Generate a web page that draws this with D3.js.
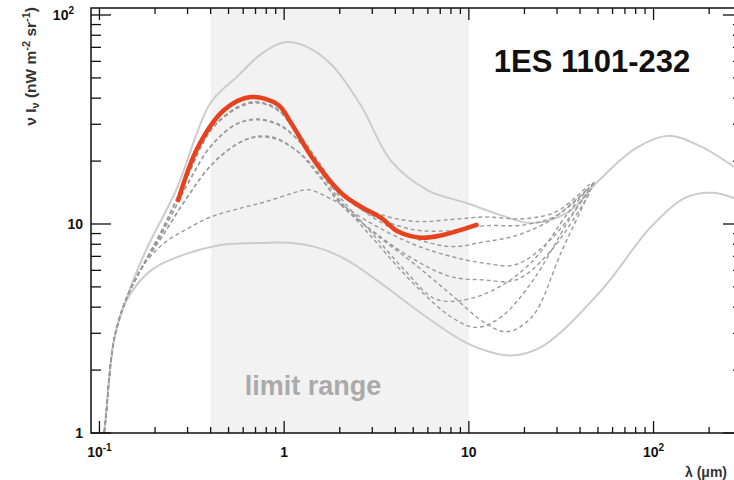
<!DOCTYPE html>
<html>
<head>
<meta charset="utf-8">
<script src="https://cdn.jsdelivr.net/npm/d3@7"></script>
<style>
  body { margin: 0; background: #fff; }
  svg { display: block; font-family: "Liberation Sans", Arial, sans-serif; }
</style>
</head>
<body>
<svg class="chart" width="734" height="480"></svg>
<script>
// wavelength (um) / intensity (nW m^-2 sr^-1) pairs
const limitRange = [0.4, 10]

const upperEnvelope = [
  [0.1, 0.75], [0.106, 1.0], [0.12, 2.8], [0.14, 4.4], [0.18, 7.6], [0.26, 14.5],
  [0.4, 38], [0.56, 51], [0.75, 65], [1, 74], [1.3, 71], [1.8, 58], [2.6, 37],
  [3.8, 20], [6, 14.5], [10, 12.5], [15, 11], [22, 10.1], [35, 11.5], [50, 16],
  [80, 23], [120, 26.4], [180, 23.5], [305, 17.5]
]

const lowerEnvelope = [
  [0.1, 0.75], [0.106, 1.0], [0.12, 2.8], [0.14, 4.3], [0.19, 6.0], [0.27, 7.0],
  [0.44, 7.9], [0.7, 8.1], [1.1, 8.1], [1.6, 7.6], [2.2, 6.7], [3.35, 5.2],
  [5.5, 3.75], [9, 2.8], [12, 2.5], [17, 2.35], [25, 2.6], [52, 4.8], [97, 9.7],
  [150, 13.4], [210, 14.1], [305, 12.8]
]

const upperLimit = [
  [0.267, 13.0], [0.342, 23.4], [0.473, 35.1], [0.66, 40.5], [0.93, 37.1],
  [1.09, 30.4], [1.45, 20.2], [2.03, 14.1], [2.6, 12.1], [3.35, 10.7],
  [4.14, 9.2], [5.5, 8.6], [7, 8.8], [11, 9.9]
]

const shapeStart = [[0.1, 0.75], [0.106, 1.0], [0.12, 2.8], [0.14, 4.4], [0.17, 6.2]]

const shapes = [
  [[0.22, 9.5], [0.3, 17], [0.4, 28], [0.55, 36], [0.7, 38.5], [0.9, 36], [1.1, 30], [1.5, 20.5], [2, 14.5], [3, 11.5], [5, 10.3], [8, 10.5], [12, 10.8], [20, 10.6], [30, 11.5], [45, 15.5]],
  [[0.22, 9.2], [0.3, 15.5], [0.4, 23.5], [0.55, 30], [0.72, 31.5], [0.95, 29.5], [1.2, 25], [1.5, 19.5], [2, 14], [3, 11], [5, 9.4], [8, 9.3], [12, 9.8], [20, 9.9], [30, 11], [45, 15]],
  [[0.22, 9.5], [0.3, 17], [0.4, 28], [0.55, 35.5], [0.7, 38], [0.9, 35.5], [1.1, 29.5], [1.5, 20], [2, 14.5], [3, 10.8], [5, 8.6], [8, 7.8], [12, 8.2], [18, 8.8], [28, 10.5], [45, 15]],
  [[0.22, 8], [0.3, 9.5], [0.4, 10.8], [0.6, 12], [0.8, 12.8], [1.1, 14], [1.35, 14.6], [1.7, 13.5], [2, 12.5], [3, 10], [5, 8], [8, 7], [12, 6.5], [18, 6.4], [28, 8.5], [45, 14.5]],
  [[0.22, 8.8], [0.3, 13.5], [0.4, 19], [0.55, 24], [0.7, 26], [0.9, 25.5], [1.2, 22], [1.5, 18], [2, 12.5], [3, 9.3], [5, 6.8], [8, 5.6], [12, 5.4], [18, 5.4], [28, 7.5], [45, 14]],
  [[0.22, 9.5], [0.3, 17], [0.4, 28], [0.55, 36], [0.7, 38.2], [0.9, 35.8], [1.1, 29.8], [1.5, 20], [2, 13.5], [3, 9], [4.5, 6], [6.5, 4.4], [9, 4.3], [14, 4.9], [22, 6.6], [35, 11.5], [48, 16]],
  [[0.22, 9.2], [0.3, 15.5], [0.4, 23.5], [0.55, 30], [0.72, 31.8], [0.95, 29.8], [1.2, 25], [1.5, 19], [2, 13], [3, 8.6], [5, 5.2], [8, 3.6], [11, 3.2], [15, 3.6], [22, 5.3], [35, 10.5], [48, 16]],
  [[0.22, 8.8], [0.3, 13.5], [0.4, 19], [0.55, 24], [0.7, 26.2], [0.9, 25.8], [1.2, 22], [1.5, 17.5], [2, 12.8], [3, 9.2], [5, 6.5], [8, 4.6], [12, 3.4], [16, 3.05], [22, 3.6], [32, 7.5], [48, 16]]
]

const xTickLabels = [[0.1, '10', '-1'], [1, '1', ''], [10, '10', ''], [100, '10', '2']]
const yTickLabels = [[1, '1', ''], [10, '10', ''], [100, '10', '2']]

// frame of the plot area
const frameL = 91
const frameR = 743
const frameT = 8
const frameB = 433

const svg = d3.select('.chart')

const x = d3.scaleLog().domain([0.09, 305]).range([frameL, frameR])
const y = d3.scaleLog().domain([1, 108]).range([frameB, frameT])

svg.append('clipPath').attr('id', 'plot')
  .append('rect')
    .attr('x', frameL).attr('y', frameT)
    .attr('width', frameR - frameL).attr('height', frameB - frameT)

// shaded limit range
svg.append('rect')
  .attr('x', x(limitRange[0]))
  .attr('y', frameT)
  .attr('width', x(limitRange[1]) - x(limitRange[0]))
  .attr('height', frameB - frameT)
  .attr('fill', '#f2f2f2')

svg.append('text')
  .attr('x', 313)
  .attr('y', 395)
  .attr('text-anchor', 'middle')
  .attr('font-size', 27)
  .attr('font-weight', 'bold')
  .attr('fill', '#aaaaaa')
  .text('limit range')

const line = d3.line()
  .x(d => x(d[0]))
  .y(d => y(d[1]))
  .curve(d3.curveCatmullRom.alpha(0.5))

const curves = svg.append('g').attr('clip-path', 'url(#plot)')

curves.append('path')
  .attr('d', line(lowerEnvelope))
  .attr('fill', 'none')
  .attr('stroke', '#cccccc')
  .attr('stroke-width', 2)

curves.append('path')
  .attr('d', line(upperEnvelope))
  .attr('fill', 'none')
  .attr('stroke', '#cccccc')
  .attr('stroke-width', 2)

curves.selectAll('.shape').data(shapes)
  .enter().append('path')
    .attr('class', 'shape')
    .attr('d', d => line(shapeStart.concat(d)))
    .attr('fill', 'none')
    .attr('stroke', '#9a9a9a')
    .attr('stroke-width', 1.4)
    .attr('stroke-dasharray', '4,3')

curves.append('path')
  .attr('d', line(upperLimit))
  .attr('fill', 'none')
  .attr('stroke', '#e8411e')
  .attr('stroke-width', 4.5)
  .attr('stroke-linecap', 'round')

// title
svg.append('text')
  .attr('x', 592)
  .attr('y', 72)
  .attr('text-anchor', 'middle')
  .attr('font-size', 31)
  .attr('font-weight', 'bold')
  .attr('fill', '#111')
  .text('1ES 1101-232')

// frame
const axes = svg.append('g').attr('stroke', '#111')
axes.append('rect')
  .attr('x', frameL).attr('y', frameT)
  .attr('width', frameR - frameL).attr('height', frameB - frameT)
  .attr('fill', 'none')
  .attr('stroke-width', 1.5)

const isMajor = v => Math.abs(Math.log10(v) - Math.round(Math.log10(v))) < 1e-6

const xTicks = x.ticks().filter(v => v >= 0.1)
const yTicks = y.ticks()

axes.selectAll('.xb').data(xTicks)
  .enter().append('line')
    .attr('x1', d => x(d)).attr('x2', d => x(d))
    .attr('y1', frameB).attr('y2', d => frameB - (isMajor(d) ? 12 : 6))
    .attr('stroke-width', 1.3)
axes.selectAll('.xt').data(xTicks)
  .enter().append('line')
    .attr('x1', d => x(d)).attr('x2', d => x(d))
    .attr('y1', frameT).attr('y2', d => frameT + (isMajor(d) ? 12 : 6))
    .attr('stroke-width', 1.3)
axes.selectAll('.yl').data(yTicks)
  .enter().append('line')
    .attr('y1', d => y(d)).attr('y2', d => y(d))
    .attr('x1', frameL).attr('x2', d => frameL + (isMajor(d) ? 20 : 10))
    .attr('stroke-width', 1.3)
axes.selectAll('.yr').data(yTicks)
  .enter().append('line')
    .attr('y1', d => y(d)).attr('y2', d => y(d))
    .attr('x1', frameR).attr('x2', d => frameR - (isMajor(d) ? 20 : 10))
    .attr('stroke-width', 1.3)

// tick labels
const labels = svg.append('g')
  .attr('font-size', 14)
  .attr('font-weight', 'bold')
  .attr('fill', '#111')

const xl = labels.selectAll('.xl').data(xTickLabels)
  .enter().append('text')
    .attr('x', d => x(d[0]))
    .attr('y', 457)
    .attr('text-anchor', 'middle')
xl.append('tspan').text(d => d[1])
xl.append('tspan').attr('dy', -6).attr('font-size', 10).text(d => d[2])

const yl = labels.selectAll('.yl').data(yTickLabels)
  .enter().append('text')
    .attr('x', d => d[2] ? 74 : 83)
    .attr('y', d => y(d[0]) + 5)
    .attr('text-anchor', 'end')
yl.append('tspan').text(d => d[1])
yl.append('tspan').attr('dy', -6).attr('font-size', 10).text(d => d[2])

// axis titles
const yt = svg.append('text')
  .attr('transform', 'translate(36, 7) rotate(-90)')
  .attr('text-anchor', 'end')
  .attr('font-size', 15.5)
  .attr('font-weight', 'bold')
  .attr('fill', '#333')
yt.append('tspan').text('\u03bd I')
yt.append('tspan').attr('dy', 3).attr('font-size', 11).text('\u03bd')
yt.append('tspan').attr('dy', -3).text(' (nW m')
yt.append('tspan').attr('dy', -6).attr('font-size', 11).text('-2')
yt.append('tspan').attr('dy', 6).text(' sr')
yt.append('tspan').attr('dy', -6).attr('font-size', 11).text('-1')
yt.append('tspan').attr('dy', 6).text(')')

svg.append('text')
  .attr('x', 685)
  .attr('y', 477)
  .attr('font-size', 14)
  .attr('font-weight', 'bold')
  .attr('fill', '#333')
  .text('\u03bb (\u03bcm)')
</script>
</body>
</html>
